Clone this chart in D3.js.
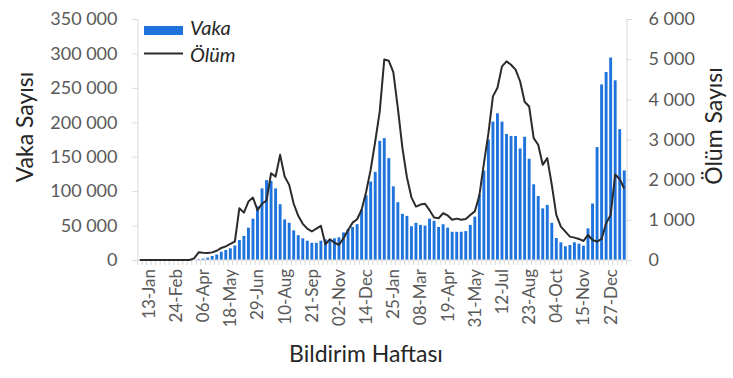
<!DOCTYPE html>
<html>
<head>
<meta charset="utf-8">
<script src="https://cdn.jsdelivr.net/npm/d3@7"></script>
<style>
  body { margin: 0; background: #fff; }
  svg { display: block; font-family: Lato, "Open Sans", sans-serif; }
</style>
</head>
<body>
<div id="chart-area"></div>
<script>
// weekly categories, 30-Dec-2019 .. 17-Jan-2022
var weeks = d3.timeMonday.range(new Date(2019, 11, 30), new Date(2022, 0, 18));

var tickLabels = ["13-Jan", "24-Feb", "06-Apr", "18-May", "29-Jun", "10-Aug", "21-Sep", "02-Nov", "14-Dec",
    "25-Jan", "08-Mar", "19-Apr", "31-May", "12-Jul", "23-Aug", "04-Oct", "15-Nov", "27-Dec"];

var caseTicks = [0, 50000, 100000, 150000, 200000, 250000, 300000, 350000];
var deathTicks = [0, 1000, 2000, 3000, 4000, 5000, 6000];

// Vaka (weekly cases)
var cases = [0, 0, 0, 0, 0, 0, 0, 0, 0, 0, 0, 0, 0,
    1000, 2000, 3400, 5800, 8000, 12000, 14500, 17000, 21000, 29000,
    35000, 47000, 60000, 78000, 104000, 116000, 115000, 104000, 81000, 59000,
    54000, 43000, 36000, 31500, 28000, 25000, 25000, 28000, 30000, 28000,
    31500, 33000, 40000, 45000, 48000, 52000, 73000, 94000, 114000, 128000,
    173000, 177000, 148000, 107000, 84000, 67000, 64000, 49000, 54000, 51000,
    50000, 60000, 57000, 48000, 52000, 47000, 41000, 41000, 41000, 42000,
    51000, 63000, 95000, 130000, 175000, 201000, 213000, 201000, 183000, 180000,
    180000, 162000, 179000, 147000, 110000, 93000, 75000, 80000, 54000, 32000,
    25700, 20000, 21800, 25700, 23700, 20800, 46000, 82000, 164000, 255000,
    273000, 294000, 261000, 190000, 130000];

// Ölüm (weekly deaths)
var deaths = [0, 0, 0, 0, 0, 0, 0, 0, 0, 0, 0, 0, 40,
    190, 180, 175, 190, 230, 300, 340, 400, 460, 1290,
    1180, 1455, 1554, 1240, 1400, 1480, 2160, 2077, 2618, 2077,
    1870, 1400, 1100, 900, 780, 710, 780, 850, 390, 516,
    430, 380, 540, 740, 930, 1014, 1250, 1700, 2250, 2950,
    3700, 4990, 4960, 4680, 3780, 2800, 2060, 1560, 1330, 1380,
    1400, 1240, 1060, 1040, 1164, 1110, 1000, 1030, 1000, 1020,
    1122, 1210, 1600, 2400, 3150, 4073, 4290, 4821, 4945, 4860,
    4738, 4450, 3940, 3823, 3034, 2868, 2369, 2535, 1870, 1122,
    830, 706, 582, 557, 524, 474, 623, 499, 457, 524,
    915, 1122, 2130, 2012, 1780];

var width = 733, height = 378;
var margin = {left: 137.5, right: 626.5, top: 19, bottom: 260};

var svg = d3.select("#chart-area")
    .append("svg")
        .attr("width", width)
        .attr("height", height);

var fmtDate = d3.timeFormat("%d-%b");
var fmtNum = d3.formatLocale({decimal: ",", thousands: " ", grouping: [3], currency: ["", ""]}).format(",");

var x = d3.scaleBand()
    .domain(d3.range(weeks.length))
    .range([margin.left, margin.right])
    .paddingInner(0.36)
    .paddingOuter(0.18);

var yL = d3.scaleLinear().domain([0, 350000]).range([margin.bottom, margin.top]);
var yR = d3.scaleLinear().domain([0, 6000]).range([margin.bottom, margin.top]);

// bars
svg.append("g")
    .selectAll("rect")
    .data(cases)
    .enter()
    .append("rect")
        .attr("x", (d, i) => x(i))
        .attr("y", (d) => yL(d))
        .attr("width", x.bandwidth())
        .attr("height", (d) => margin.bottom - yL(d))
        .attr("fill", "#1e74dc");

// category tick marks
svg.append("g")
    .selectAll("line")
    .data(d3.range(weeks.length + 1))
    .enter()
    .append("line")
        .attr("x1", (i) => margin.left + i * x.step())
        .attr("x2", (i) => margin.left + i * x.step())
        .attr("y1", margin.bottom)
        .attr("y2", margin.bottom + 5)
        .attr("stroke", "#d9d9d9")
        .attr("stroke-width", 1);

svg.append("line")
    .attr("x1", margin.left).attr("x2", margin.right)
    .attr("y1", margin.bottom).attr("y2", margin.bottom)
    .attr("stroke", "#d9d9d9");

// line
var line = d3.line()
    .x((d, i) => x(i) + x.bandwidth() / 2)
    .y((d) => yR(d));

svg.append("path")
    .datum(deaths)
    .attr("d", line)
    .attr("fill", "none")
    .attr("stroke", "#2b2b2b")
    .attr("stroke-width", 2)
    .attr("stroke-linejoin", "round");

// axes
var leftAxis = d3.axisLeft(yL)
    .tickValues(caseTicks)
    .tickSize(5)
    .tickPadding(15)
    .tickFormat(fmtNum);

var gL = svg.append("g")
    .attr("transform", "translate(" + margin.left + ",0)")
    .call(leftAxis);

var rightAxis = d3.axisRight(yR)
    .tickValues(deathTicks)
    .tickSize(5)
    .tickPadding(17)
    .tickFormat(fmtNum);

var gR = svg.append("g")
    .attr("transform", "translate(" + margin.right + ",0)")
    .call(rightAxis);

[gL, gR].forEach((g) => {
    g.select(".domain").attr("stroke", "#d9d9d9");
    g.selectAll(".tick line").attr("stroke", "#d9d9d9");
    g.selectAll(".tick text")
        .attr("fill", "#595959")
        .attr("font-size", "18px")
        .attr("font-family", "Lato, sans-serif");
});

// x labels
svg.append("g")
    .selectAll("text")
    .data(weeks.map((d, i) => ({i: i, label: fmtDate(d)})).filter((d) => tickLabels.indexOf(d.label) >= 0))
    .enter()
    .append("text")
        .attr("transform", (d) => "translate(" + (x(d.i) + x.bandwidth() / 2) + "," + 269 + ") rotate(-90)")
        .attr("dy", "0.35em")
        .attr("text-anchor", "end")
        .attr("font-size", "17px")
        .attr("fill", "#595959")
        .text((d) => d.label);

// axis titles
svg.append("text")
    .attr("transform", "translate(33,127) rotate(-90)")
    .attr("text-anchor", "middle")
    .attr("font-size", "23px")
    .attr("fill", "#262626")
    .text("Vaka Sayısı");

svg.append("text")
    .attr("transform", "translate(722,126) rotate(-90)")
    .attr("text-anchor", "middle")
    .attr("font-size", "23px")
    .attr("fill", "#262626")
    .text("Ölüm Sayısı");

svg.append("text")
    .attr("x", 366)
    .attr("y", 362)
    .attr("text-anchor", "middle")
    .attr("font-size", "23px")
    .attr("fill", "#262626")
    .text("Bildirim Haftası");

// legend
var legend = svg.append("g");
legend.append("rect")
    .attr("x", 144).attr("y", 26)
    .attr("width", 39).attr("height", 9)
    .attr("fill", "#1e74dc");
legend.append("text")
    .attr("x", 190).attr("y", 35)
    .attr("font-size", "20px")
    .attr("font-style", "italic")
    .attr("fill", "#262626")
    .text("Vaka");
legend.append("line")
    .attr("x1", 144).attr("x2", 183)
    .attr("y1", 53.5).attr("y2", 53.5)
    .attr("stroke", "#2b2b2b")
    .attr("stroke-width", 2);
legend.append("text")
    .attr("x", 190).attr("y", 62)
    .attr("font-size", "20px")
    .attr("font-style", "italic")
    .attr("fill", "#262626")
    .text("Ölüm");
</script>
</body>
</html>
